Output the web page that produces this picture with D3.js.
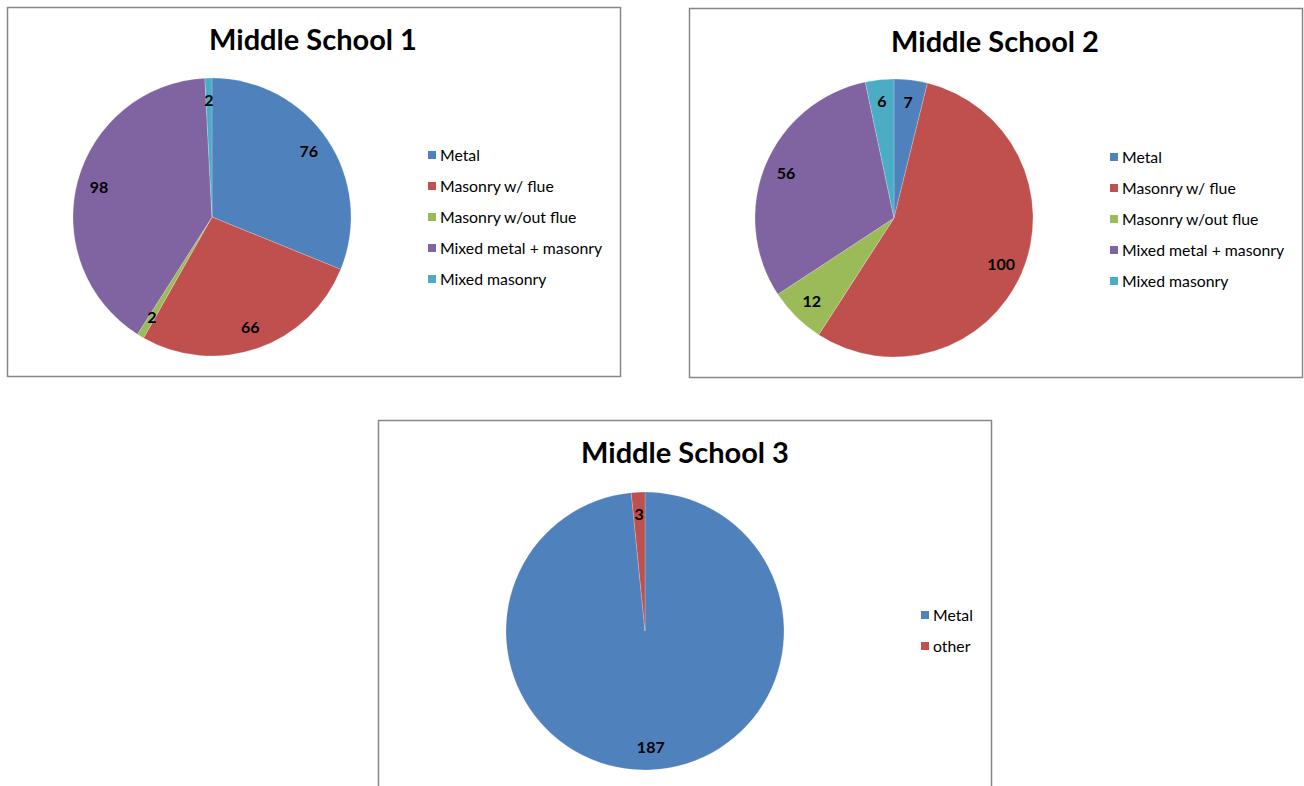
<!DOCTYPE html>
<html>
<head>
<meta charset="utf-8">
<script src="https://cdn.jsdelivr.net/npm/d3@7"></script>
<style>
  html, body { margin: 0; padding: 0; background: #fff; }
  svg { display: block; }
</style>
</head>
<body>
<svg id="chart" width="1304" height="786"></svg>
<script>
// ---- Data ----
const titles = ["Middle School 1", "Middle School 2", "Middle School 3"];
const categoriesFive = ["Metal", "Masonry w/ flue", "Masonry w/out flue", "Mixed metal + masonry", "Mixed masonry"];
const categoriesTwo = ["Metal", "other"];
const school1Values = [76, 66, 2, 98, 2];
const school2Values = [7, 100, 12, 56, 6];
const school3Values = [187, 3];
const palette = ["#4F81BD", "#C0504D", "#9BBB59", "#8064A2", "#4BACC6"];

// ---- Layout ----
const panels = [
  { title: titles[0], cats: categoriesFive, vals: school1Values,
    box: [7, 7, 613, 369], cx: 212, cy: 217, r: 139, titleX: 313, titleY: 50, legX: 428, legY: 155 },
  { title: titles[1], cats: categoriesFive, vals: school2Values,
    box: [689, 8, 613, 369], cx: 894, cy: 218, r: 139, titleX: 995, titleY: 52, legX: 1110, legY: 157 },
  { title: titles[2], cats: categoriesTwo, vals: school3Values,
    box: [378, 420, 613, 380], cx: 645, cy: 631, r: 139, titleX: 685, titleY: 463, legX: 921, legY: 615 }
];

const svg = d3.select("#chart");
const colorScale = d3.scaleOrdinal().domain(d3.range(palette.length)).range(palette);

panels.forEach(p => {
  const g = svg.append("g");
  g.append("rect")
    .attr("x", p.box[0] + 0.5).attr("y", p.box[1] + 0.5)
    .attr("width", p.box[2]).attr("height", p.box[3])
    .attr("fill", "#fff").attr("stroke", "#878787").attr("stroke-width", 1.5);

  g.append("text")
    .attr("x", p.titleX).attr("y", p.titleY)
    .attr("text-anchor", "middle")
    .attr("font-family", "Lato, 'Open Sans', sans-serif")
    .attr("font-weight", "bold").attr("font-size", 29)
    .attr("fill", "#000")
    .text(p.title);

  const data = p.cats.map((c, i) => ({ cat: c, idx: i, value: p.vals[i] }));
  const pie = d3.pie().value(d => d.value).sort(null);
  const arcs = pie(data);
  const arc = d3.arc().innerRadius(0).outerRadius(p.r);
  const labelArc = d3.arc().innerRadius(p.r * 0.84).outerRadius(p.r * 0.84);

  const pg = g.append("g").attr("transform", `translate(${p.cx},${p.cy})`);
  pg.selectAll("path").data(arcs).join("path")
    .attr("d", arc)
    .attr("fill", d => colorScale(d.data.idx))
    .attr("stroke", "#fff").attr("stroke-width", 0.3).attr("stroke-opacity", 0.7);

  pg.selectAll("text").data(arcs).join("text")
    .attr("transform", d => `translate(${labelArc.centroid(d)})`)
    .attr("text-anchor", "middle").attr("dy", "0.35em")
    .attr("font-family", "Lato, 'Open Sans', sans-serif")
    .attr("font-weight", "bold").attr("font-size", 16)
    .attr("fill", "#000")
    .text(d => d.data.value);

  const lg = g.append("g").attr("transform", `translate(${p.legX},${p.legY})`);
  const items = lg.selectAll("g").data(p.cats).join("g")
    .attr("transform", (d, i) => `translate(0,${i * 31})`);
  items.append("rect")
    .attr("x", 0).attr("y", -4).attr("width", 8).attr("height", 8)
    .attr("fill", (d, i) => colorScale(i));
  items.append("text")
    .attr("x", 12).attr("y", 0).attr("dy", "0.35em")
    .attr("font-family", "Lato, 'Open Sans', sans-serif")
    .attr("font-size", 15.8).attr("fill", "#000")
    .text(d => d);
});
</script>
</body>
</html>
